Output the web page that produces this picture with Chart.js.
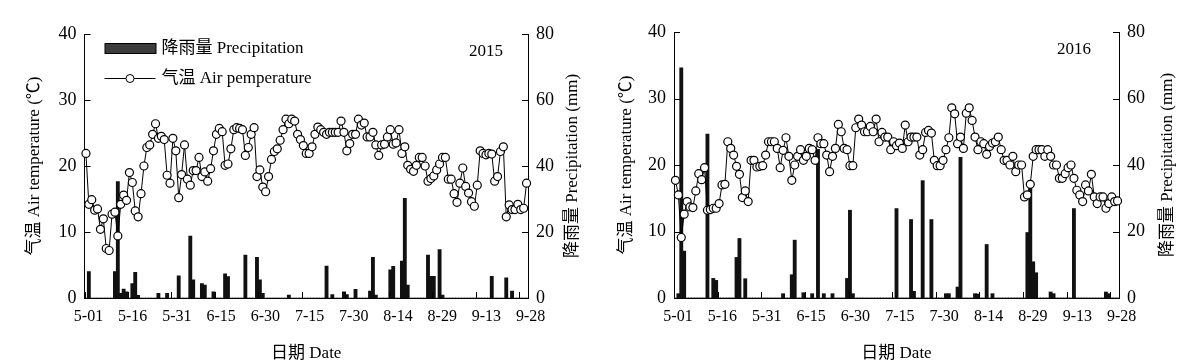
<!DOCTYPE html>
<html>
<head>
<meta charset="utf-8">
<script src="https://cdn.jsdelivr.net/npm/chart.js@4.4.0/dist/chart.umd.min.js"></script>
<style>
  html, body { margin: 0; padding: 0; background: #fff; }
  #wrap { position: relative; width: 1199px; height: 364px; }
  canvas { position: absolute; top: 0; }
  #c2015 { left: 0; }
  #c2016 { left: 599px; }
</style>
</head>
<body>
<div id="wrap">
  <canvas id="c2015" width="599" height="364"></canvas>
  <canvas id="c2016" width="600" height="364"></canvas>
</div>
<script>
const FONT = '"Liberation Serif", "Times New Roman", "Noto Sans CJK SC", serif';

// days 5-01 .. 9-30
const months = [5, 6, 7, 8, 9];
const monthDays = [31, 30, 31, 31, 30];
const dayLabels = [];
months.forEach((m, k) => {
  for (let d = 1; d <= monthDays[k]; d++) dayLabels.push(m + "-" + String(d).padStart(2, "0"));
});

const tickLabels = ["5-01", "5-16", "5-31", "6-15", "6-30", "7-15", "7-30", "8-14", "8-29", "9-13", "9-28"];
const tempTicks = [0, 10, 20, 30, 40];
const rainTicks = [0, 20, 40, 60, 80];

/* ==== 2015 ==== */
const temp2015 = [
  21.9, 14.2, 14.9, 13.3, 13.5, 10.4, 12.0, 7.5, 7.2, 12.7,
  13.0, 9.4, 14.2, 15.6, 14.8, 19.0, 17.5, 13.2, 12.3, 15.8,
  20.0, 22.8, 23.2, 24.8, 26.4, 24.2, 24.5, 24.0, 18.6, 17.4,
  24.2, 22.3, 15.2, 18.7, 23.2, 18.0, 17.1, 19.3, 19.3, 21.3,
  18.4, 19.1, 17.7, 19.6, 22.3, 24.8, 25.7, 25.2, 20.1, 20.3,
  22.6, 25.5, 25.8, 25.7, 25.5, 21.6, 22.8, 24.8, 25.8, 18.4,
  19.4, 16.8, 16.1, 18.4, 21.0, 22.2, 22.6, 23.9, 25.5, 27.1,
  26.4, 27.1, 26.8, 24.8, 24.0, 23.1, 21.9, 21.9, 22.9, 24.8,
  25.9, 25.5, 25.1, 24.8, 25.1, 25.1, 25.1, 25.1, 26.8, 25.1,
  22.3, 23.4, 24.8, 24.8, 27.1, 26.2, 26.5, 24.4, 24.4, 25.1,
  23.2, 21.6, 23.2, 23.3, 24.4, 25.5, 23.3, 23.5, 25.5, 21.9,
  22.9, 20.1, 19.5, 19.2, 20.1, 21.3, 21.3, 20.0, 17.7, 18.1,
  18.5, 19.4, 20.3, 21.3, 21.3, 18.0, 18.0, 15.8, 14.5, 17.4,
  19.7, 16.9, 15.9, 14.6, 13.9, 17.1, 22.3, 21.9, 21.7, 21.9,
  21.8, 17.7, 18.4, 22.2, 22.9, 12.3, 14.1, 13.4, 13.4, 14.2,
  13.4, 13.6, 17.4
];
const rainDates2015 = [
  "5-02", "5-11", "5-12", "5-13", "5-14", "5-15", "5-17", "5-18", "5-19", "5-26",
  "5-29", "6-02", "6-06", "6-07", "6-10", "6-11", "6-14", "6-18", "6-19", "6-25",
  "6-29", "6-30", "7-01", "7-10", "7-23", "7-25", "7-29", "7-30", "8-02", "8-07",
  "8-08", "8-09", "8-14", "8-15", "8-18", "8-19", "8-20", "8-27", "8-28", "8-29",
  "8-31", "9-01", "9-18", "9-23", "9-25"
];
const rainMm2015 = [
  8.0, 8.0, 35.3, 1.4, 2.7, 1.9, 4.4, 7.8, 0.8, 1.4,
  1.4, 6.7, 18.8, 5.5, 4.4, 3.9, 1.9, 7.3, 6.5, 13.0,
  12.3, 5.5, 1.4, 0.9, 9.7, 1.0, 1.9, 1.0, 2.6, 2.1,
  12.3, 0.9, 8.5, 9.6, 11.2, 30.2, 3.9, 13.0, 6.6, 6.6,
  14.7, 0.9, 6.6, 6.1, 2.1
];

/* ==== 2016 ==== */
const temp2016 = [
  17.7, 15.5, 9.1, 12.6, 14.5, 13.7, 13.6, 16.1, 18.7, 17.8,
  19.6, 13.2, 13.3, 13.5, 13.5, 14.2, 17.0, 17.1, 23.5, 22.5,
  21.5, 19.8, 18.6, 15.1, 16.1, 14.5, 20.7, 20.7, 19.7, 19.8,
  19.9, 21.5, 23.5, 23.5, 23.5, 22.5, 19.6, 22.2, 24.1, 21.3,
  17.7, 20.0, 21.3, 22.3, 20.7, 21.3, 22.5, 22.3, 20.7, 24.1,
  23.2, 23.2, 21.5, 19.0, 21.3, 22.5, 26.1, 25.0, 22.5, 22.3,
  19.9, 19.9, 25.6, 26.9, 26.0, 25.0, 25.0, 25.8, 25.0, 26.9,
  23.5, 24.9, 24.2, 24.2, 22.3, 23.5, 22.9, 23.3, 22.5, 26.0,
  23.5, 24.2, 24.2, 24.2, 21.5, 22.3, 24.9, 25.2, 24.8, 20.7,
  19.9, 19.9, 20.7, 22.3, 24.1, 28.6, 27.7, 23.2, 24.2, 22.5,
  27.8, 28.6, 26.7, 24.2, 22.3, 23.5, 23.2, 21.6, 22.8, 23.3,
  23.5, 24.2, 22.3, 20.7, 20.7, 20.0, 21.3, 19.0, 20.0, 20.0,
  15.2, 15.5, 17.1, 21.3, 22.3, 22.3, 22.3, 21.3, 22.3, 21.3,
  20.0, 20.0, 18.0, 18.0, 18.7, 19.6, 20.0, 18.0, 16.2, 15.5,
  14.5, 17.0, 16.1, 18.6, 15.2, 14.2, 15.2, 15.2, 13.5, 14.2,
  15.2, 14.5, 14.6
];
const rainDates2016 = [
  "5-02", "5-03", "5-04", "5-12", "5-14", "5-15", "5-22", "5-23", "5-25", "6-07",
  "6-10", "6-11", "6-14", "6-17", "6-19", "6-21", "6-24", "6-29", "6-30", "7-01",
  "7-16", "7-21", "7-22", "7-25", "7-28", "8-02", "8-03", "8-06", "8-07", "8-12",
  "8-13", "8-16", "8-18", "8-30", "8-31", "9-01", "9-02", "9-07", "9-08", "9-15",
  "9-26", "9-27"
];
const rainMm2016 = [
  1.3, 69.2, 14.1, 49.3, 5.9, 5.3, 12.2, 17.9, 5.8, 1.3,
  7.0, 17.4, 1.6, 1.3, 44.7, 1.3, 1.3, 5.9, 26.4, 1.3,
  26.9, 23.6, 2.0, 35.3, 23.6, 1.3, 1.3, 3.3, 42.3, 1.3,
  1.2, 16.1, 1.3, 19.7, 34.5, 10.9, 7.6, 1.8, 1.3, 26.9,
  1.8, 1.3
];

function rainSeries(dates, mm) {
  const out = dayLabels.map(() => 0);
  dates.forEach((d, k) => { out[dayLabels.indexOf(d)] = mm[k]; });
  return out;
}

/* ==== ticks pointing into the plot ==== */
const innerTicks = {
  id: "innerTicks",
  afterDatasetsDraw(chart) {
    const { ctx, chartArea: a, scales } = chart;
    const len = 6;
    ctx.save();
    ctx.strokeStyle = "#000";
    ctx.lineWidth = 1;
    ctx.beginPath();
    scales.y.ticks.forEach(t => {
      const y = Math.round(scales.y.getPixelForValue(t.value)) + 0.5;
      ctx.moveTo(a.left, y); ctx.lineTo(a.left + len, y);
    });
    scales.y1.ticks.forEach(t => {
      const y = Math.round(scales.y1.getPixelForValue(t.value)) + 0.5;
      ctx.moveTo(a.right, y); ctx.lineTo(a.right - len, y);
    });
    const x = scales.x;
    tickLabels.forEach(lab => {
      const i = dayLabels.indexOf(lab);
      const px = i === 0 ? a.left : (x.getPixelForValue(i - 1) + x.getPixelForValue(i)) / 2;
      const xx = Math.round(px) + 0.5;
      ctx.moveTo(xx, a.bottom); ctx.lineTo(xx, a.bottom - len);
    });
    ctx.stroke();
    ctx.restore();
  }
};

/* ==== titles, year, legend ==== */
const decorations = {
  id: "decorations",
  afterDraw(chart) {
    const { ctx, chartArea: a } = chart;
    const o = chart.options.plugins.decorations;
    const midY = (a.top + a.bottom) / 2;
    ctx.save();
    ctx.fillStyle = "#000";
    ctx.font = "17px " + FONT;
    ctx.textBaseline = "middle";

    ctx.textAlign = "center";
    ctx.fillText("日期 Date", (a.left + a.right) / 2, 354);

    ctx.save();
    ctx.translate(a.left - o.leftTitleGap, midY);
    ctx.rotate(-Math.PI / 2);
    ctx.fillText("气温 Air temperature (℃)", 0, 0);
    ctx.restore();

    ctx.save();
    ctx.translate(a.right + o.rightTitleGap, midY);
    ctx.rotate(-Math.PI / 2);
    ctx.fillText("降雨量 Precipitation (mm)", 0, 0);
    ctx.restore();

    ctx.textAlign = "right";
    ctx.fillText(o.year, a.right - o.yearGap, o.yearY);

    if (o.legend) {
      const lx = a.left + 20;
      ctx.fillStyle = "#3c3c3c";
      ctx.fillRect(lx + 0.5, 43.5, 51, 10);
      ctx.strokeStyle = "#000";
      ctx.lineWidth = 1;
      ctx.strokeRect(lx + 0.5, 43.5, 51, 10);

      ctx.beginPath();
      ctx.moveTo(lx, 78.5); ctx.lineTo(lx + 51, 78.5);
      ctx.stroke();
      ctx.beginPath();
      ctx.arc(lx + 25.5, 78.5, 4, 0, Math.PI * 2);
      ctx.fillStyle = "#fff";
      ctx.fill();
      ctx.stroke();

      ctx.fillStyle = "#000";
      ctx.textAlign = "left";
      ctx.fillText("降雨量 Precipitation", lx + 57, 48.5);
      ctx.fillText("气温 Air pemperature", lx + 57, 78.5);
    }
    ctx.restore();
  }
};

function makePanel(id, temps, rain, o) {
  const ctx = document.getElementById(id).getContext("2d");
  return new Chart(ctx, {
    type: "bar",
    data: {
      labels: dayLabels,
      datasets: [
        {
          type: "line",
          data: temps,
          yAxisID: "y",
          order: 0,
          borderColor: "#000",
          borderWidth: 1,
          pointRadius: 4,
          pointBorderWidth: 1.2,
          pointBackgroundColor: "#fff",
          pointBorderColor: "#000",
          tension: 0,
          clip: false
        },
        {
          type: "bar",
          data: rain,
          yAxisID: "y1",
          order: 1,
          backgroundColor: "#111",
          barThickness: 3.2
        }
      ]
    },
    options: {
      responsive: false,
      animation: false,
      events: [],
      layout: { padding: { top: o.top, left: 0, right: 0, bottom: 0 } },
      scales: {
        x: {
          type: "category",
          offset: true,
          grid: { display: false, drawTicks: false },
          border: { display: true, color: "#000", width: 1 },
          ticks: { display: false },
          afterFit(s) { s.height = 0; }
        },
        // date labels, spread evenly under the axis
        xl: {
          type: "linear",
          position: "bottom",
          offset: false,
          bounds: "data",
          min: -0.09, max: 9.94,
          afterBuildTicks(s) { s.ticks = tickLabels.map((_, k) => ({ value: k })); },
          grid: { display: false, drawTicks: false, offset: false },
          border: { display: false },
          ticks: {
            autoSkip: false,
            maxRotation: 0,
            padding: 9,
            color: "#000",
            font: { family: FONT, size: 16 },
            callback: v => tickLabels[v]
          },
          afterFit(s) { s.height = 66; }
        },
        y: {
          position: "left",
          min: 0, max: 40,
          afterBuildTicks(s) { s.ticks = tempTicks.map(v => ({ value: v })); },
          grid: { display: false, drawTicks: false },
          border: { display: true, color: "#000", width: 1 },
          ticks: { padding: 8, color: "#000", font: { family: FONT, size: 18 } },
          afterFit(s) { s.width = o.leftW; }
        },
        y1: {
          position: "right",
          min: 0, max: 80,
          afterBuildTicks(s) { s.ticks = rainTicks.map(v => ({ value: v })); },
          grid: { display: false, drawTicks: false },
          border: { display: true, color: "#000", width: 1 },
          ticks: { padding: 8, color: "#000", font: { family: FONT, size: 18 } },
          afterFit(s) { s.width = o.rightW; }
        }
      },
      plugins: {
        legend: { display: false },
        tooltip: { enabled: false },
        decorations: o
      }
    },
    plugins: [innerTicks, decorations]
  });
}

makePanel("c2015", temp2015, rainSeries(rainDates2015, rainMm2015), {
  top: 34, leftW: 84.5, rightW: 71,
  leftTitleGap: 50, rightTitleGap: 45,
  year: "2015", yearGap: 25, yearY: 52, legend: true
});

makePanel("c2016", temp2016, rainSeries(rainDates2016, rainMm2016), {
  top: 32, leftW: 75, rightW: 80,
  leftTitleGap: 47, rightTitleGap: 49,
  year: "2016", yearGap: 28, yearY: 50, legend: false
});
</script>
</body>
</html>
